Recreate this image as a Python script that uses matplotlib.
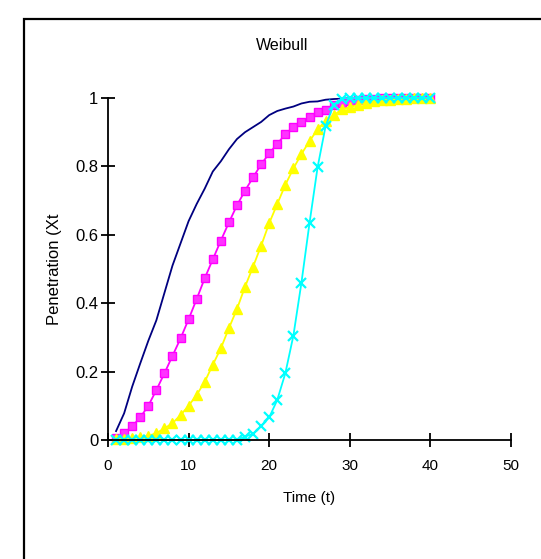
import matplotlib
matplotlib.use("Agg")
import matplotlib.pyplot as plt
from matplotlib.patches import Rectangle

plt.rcParams['font.family'] = ['Liberation Sans', 'DejaVu Sans']

t = list(range(1, 41))

navy_vals = [0.026, 0.078, 0.156, 0.224, 0.29, 0.35, 0.43, 0.51, 0.575, 0.64,
             0.69, 0.735, 0.785, 0.815, 0.85, 0.88, 0.90, 0.915, 0.93, 0.95,
             0.962, 0.969, 0.975, 0.984, 0.989, 0.99, 0.995, 0.997, 0.998, 0.999,
             1.0, 1.0, 1.0, 1.0, 1.0, 1.0, 1.0, 1.0, 1.0, 1.0]

magenta_vals = [0.005, 0.02, 0.04, 0.066, 0.10, 0.146, 0.195, 0.246, 0.297, 0.353,
                0.412, 0.473, 0.528, 0.583, 0.636, 0.686, 0.729, 0.768, 0.806, 0.838,
                0.866, 0.894, 0.915, 0.93, 0.943, 0.959, 0.966, 0.98, 0.986, 0.99,
                0.994, 0.996, 0.998, 1.0, 1.0, 1.0, 1.0, 1.0, 1.0, 1.0]

yellow_vals = [0.002, 0.004, 0.006, 0.008, 0.012, 0.02, 0.034, 0.049, 0.073, 0.10,
               0.132, 0.17, 0.22, 0.268, 0.327, 0.383, 0.448, 0.507, 0.568, 0.634,
               0.69, 0.746, 0.794, 0.836, 0.874, 0.908, 0.934, 0.949, 0.967, 0.973,
               0.98, 0.986, 0.99, 0.993, 0.995, 0.997, 0.998, 0.999, 0.999, 1.0]

cyan_vals = [0.0, 0.0, 0.0, 0.0, 0.0, 0.0, 0.0, 0.0, 0.0, 0.0,
             0.0, 0.0, 0.0, 0.0, 0.0, 0.001, 0.01, 0.018, 0.04, 0.066,
             0.117, 0.195, 0.305, 0.46, 0.634, 0.797, 0.918, 0.98, 0.998, 1.0,
             1.0, 1.0, 1.0, 1.0, 1.0, 1.0, 1.0, 1.0, 1.0, 1.0]

fig = plt.figure(figsize=(5.41, 5.59), dpi=100)
ax = fig.add_axes([108 / 541, 119 / 559, 403 / 541, 342 / 559])

# outer chart frame (cut off at right and bottom)
fig.patches.append(Rectangle((24 / 541, -0.02), 1.0, 1 - 19 / 559 + 0.02,
                             transform=fig.transFigure, fill=False,
                             edgecolor='black', linewidth=1.6))

ax.plot(t, navy_vals, color='#000080', linewidth=1.3, clip_on=False)
ax.plot(t, magenta_vals, color='#ff00ff', linewidth=1.3, marker='s', markersize=6,
        markerfacecolor='#ff33ff', markeredgecolor='#ff00ff', clip_on=False)
ax.plot(t, yellow_vals, color='#ffff00', linewidth=1.3, marker='^', markersize=7,
        markerfacecolor='#ffff00', markeredgecolor='#ffff00', clip_on=False)
ax.plot(t, cyan_vals, color='#00ffff', linewidth=1.3, marker='x', markersize=7,
        markeredgewidth=1.6, clip_on=False)

ax.set_xlim(0, 50)
ax.set_ylim(0, 1)
ax.set_xticks([0, 10, 20, 30, 40, 50])
ax.set_yticks([0, 0.2, 0.4, 0.6, 0.8, 1])
ax.set_yticklabels(['0', '0.2', '0.4', '0.6', '0.8', '1'])
ax.spines['top'].set_visible(False)
ax.spines['right'].set_visible(False)
ax.spines['left'].set_linewidth(1.3)
ax.spines['bottom'].set_linewidth(1.3)
ax.tick_params(direction='inout', length=10, width=1.3, labelsize=11, pad=2)
ax.tick_params(axis='x', pad=9)
ax.tick_params(axis='y', labelsize=12)

ax.set_title('Weibull', fontsize=11.5, x=0.432, y=1.115)
ax.set_xlabel('Time (t)', fontsize=11)
ax.xaxis.set_label_coords(0.499, -0.15)
ax.set_ylabel('Penetration (Xt', fontsize=12)
ax.yaxis.set_label_coords(-0.114, 0.5)

fig.savefig('out.png', dpi=100)
